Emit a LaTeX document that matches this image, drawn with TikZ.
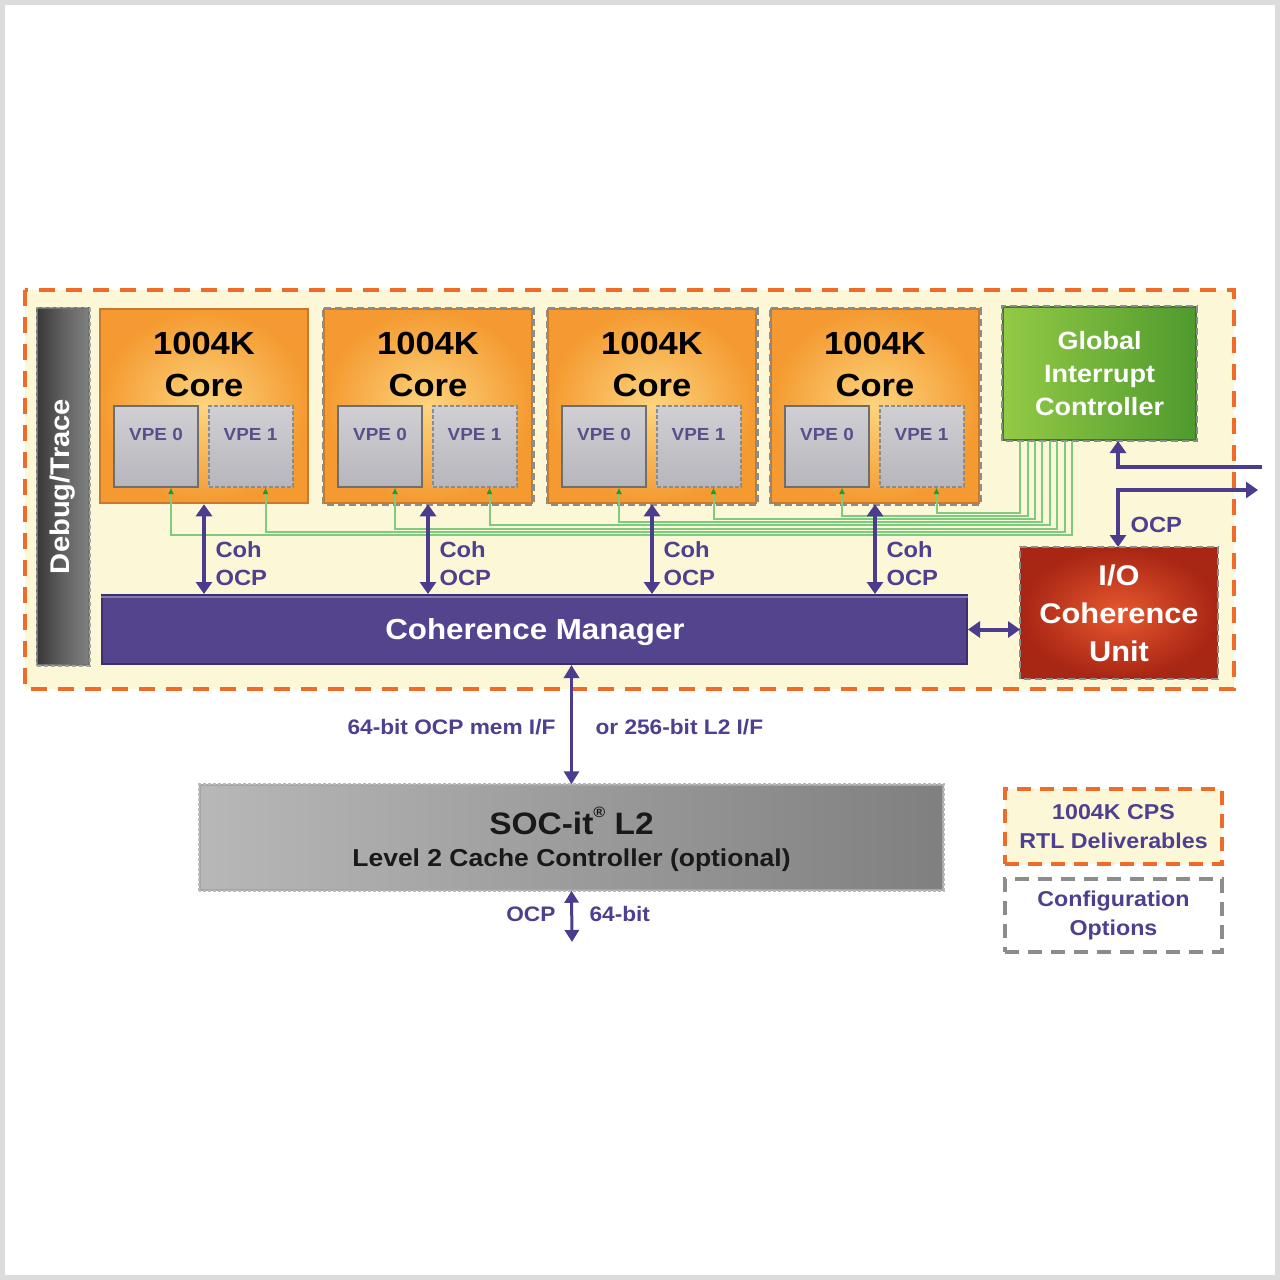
\documentclass[tikz,border=0pt]{standalone}
\usepackage{fontspec}
\setmainfont{Liberation Sans}[FakeStretch=1.08]
\usetikzlibrary{arrows.meta,shapes.geometric}
\definecolor{pur}{HTML}{4B3C8E}
\definecolor{ptxt}{HTML}{4E3F90}
\definecolor{bgy}{HTML}{FCF7D6}
\definecolor{odash}{HTML}{F06A28}
\definecolor{corein}{HTML}{FDD47E}
\definecolor{coreout}{HTML}{F49A30}
\definecolor{coreedge}{HTML}{C9782C}
\definecolor{dgray}{HTML}{8C8C8C}
\definecolor{vpetop}{HTML}{CFCFD4}
\definecolor{vpebot}{HTML}{B6B6BC}
\definecolor{vpeedge}{HTML}{6E6E72}
\definecolor{glc}{HTML}{7CCB7E}
\definecolor{gtip}{HTML}{1F9A38}
\definecolor{gicl}{HTML}{93CA45}
\definecolor{gicr}{HTML}{4F9A2E}
\definecolor{iocin}{HTML}{E8582E}
\definecolor{iocout}{HTML}{A82614}
\definecolor{cmfill}{HTML}{54448E}
\definecolor{cmedge}{HTML}{3B2F6E}
\definecolor{framegray}{HTML}{DCDCDC}
\newcommand{\myfs}[2]{\fontsize{#1}{#2}\selectfont\bfseries}
\begin{document}
\begin{tikzpicture}[x=1pt,y=-1pt,
  box/.style={rectangle, inner sep=0pt},
  corebox/.style={box, minimum width=208pt, minimum height=194pt, shading=radial, inner color=corein, outer color=coreout, draw=coreedge, line width=2.5pt},
  dashedge/.style={draw=dgray, dash pattern=on 7pt off 4pt, line width=2.5pt},
  vpebox/.style={box, minimum width=84pt, minimum height=81pt, top color=vpetop, bottom color=vpebot, draw=vpeedge, line width=2pt},
  vpeboxd/.style={vpebox, draw=dgray, dash pattern=on 4pt off 2pt},
  coretext/.style={align=center, font=\myfs{32}{42}, text=black},
  vpetext/.style={font=\myfs{17.5}{20}, text=ptxt!75!gray},
  lab/.style={font=\myfs{22}{28}, text=ptxt, align=left},
  parr/.style={draw=pur, line width=4pt, arrows={Triangle[length=12pt,width=16pt]-Triangle[length=12pt,width=16pt]}},
  parr1/.style={draw=pur, line width=4pt, arrows={-Triangle[length=12pt,width=16pt]}},
  gline/.style={draw=glc, line width=2pt, arrows={-Triangle[length=6pt,width=5pt,color=gtip]}},
  legtext/.style={align=center, font=\myfs{21.5}{29}, text=ptxt}
]
\useasboundingbox (0,0) rectangle (1280,1280);
\fill[white] (0,0) rectangle (1280,1280);
\draw[framegray, line width=5pt] (2.5,2.5) rectangle (1277.5,1277.5);

% outer CPS region
\draw[odash, fill=bgy, line width=4pt, dash pattern=on 16pt off 11pt] (25,290) rectangle (1234,689);

% Debug/Trace
\node[box, minimum width=52pt, minimum height=357pt, left color=black!78, right color=black!50, middle color=black!62, draw=black!55, line width=1.5pt] (dbg) at (63,486.5) {};
\draw[dgray!80, dash pattern=on 4pt off 3pt, line width=1.5pt] (dbg.south west) rectangle (dbg.north east);
\node[rotate=90, font=\myfs{27}{30}, text=white] (dbgt) at (dbg.center) {Debug/Trace};

% cores
\node[corebox] (c1) at (204,406) {};
\foreach \i/\cx in {2/428,3/652,4/875}{
  \node[corebox] (c\i) at (\cx,406) {};
  \draw[dashedge] (c\i.south west) rectangle (c\i.north east);
}
\foreach \i/\cx in {1/204,2/428,3/652,4/875}{
  \node[coretext] (c\i t) at ([yshift=-57pt]c\i.north) {1004K\\Core};
  \node[vpebox] (v\i0) at (\cx-48,446.5) {};
  \node[vpeboxd] (v\i1) at (\cx+46.5,446.5) {};
  \node[vpetext] (v\i0t) at ([yshift=-29pt]v\i0.north) {VPE 0};
  \node[vpetext] (v\i1t) at ([yshift=-29pt]v\i1.north) {VPE 1};
}

% Global Interrupt Controller
\node[box, minimum width=193pt, minimum height=133pt, left color=gicl, right color=gicr, draw=gicr!80!black, line width=2pt] (gic) at (1099.5,373.5) {};
\draw[dashedge] (gic.south west) rectangle (gic.north east);
\node[align=center, font=\myfs{25}{33}, text=white] (gict) at (gic.center) {Global\\Interrupt\\Controller};

% I/O Coherence Unit
\node[box, minimum width=196pt, minimum height=130pt, shading=radial, inner color=iocin, outer color=iocout, draw=iocout, line width=2pt] (iocu) at (1119,613) {};
\draw[dashedge] (iocu.south west) rectangle (iocu.north east);
\node[align=center, font=\myfs{28.5}{38}, text=white] (iocut) at (iocu.center) {I/O\\Coherence\\Unit};

% Coherence Manager
\node[box, minimum width=865pt, minimum height=69pt, fill=cmfill, draw=cmedge, line width=2pt] (cm) at (534.5,629.5) {};
\draw[cmfill!70!white, line width=2pt] ([yshift=-3pt]cm.north west) -- ([yshift=-3pt]cm.north east);
\node[font=\myfs{29}{32}, text=white] (cmt) at (535,632) {Coherence Manager};

% green interrupt lines from VPEs to GIC
\foreach \v/\bx/\by in {v10/1072/535, v11/1064.6/531.8, v20/1057.2/528.6, v21/1049.8/525.4, v30/1042.4/522.2, v31/1035/519, v40/1027.6/515.8, v41/1020.2/512.6}{
  \draw[gline] (gic.south -| \bx,0) |- ([xshift=15pt]\v.south |- 0,\by) -- ([xshift=15pt]\v.south);
}

% Coh OCP arrows cores <-> CM
\foreach \i in {1,2,3,4}{
  \draw[parr] (c\i.south) -- (c\i.south |- cm.north);
  \node[lab, anchor=west] (l\i) at ([xshift=8pt]c\i.south |- 0,564) {Coh\\OCP};
}

% CM <-> IOCU
\draw[parr] (cm.east) -- (cm.east -| iocu.west);

% external OCP ports
\coordinate (ext1) at (1262,467);
\coordinate (ext2) at (1258,490);
\draw[parr1] (ext1) -| (gic.south -| 1118,0);
\draw[parr] (ext2) -| (iocu.north -| 1118,0);
\node[lab, anchor=west] (ocpl) at (1127,525) {OCP};

% SOC-it L2
\node[box, minimum width=743pt, minimum height=105pt, left color=black!28, middle color=black!20, right color=black!50, draw=black!35, line width=1.5pt] (soc) at (571.5,837.5) {};
\draw[dgray!60, dash pattern=on 3pt off 2pt, line width=2pt] (soc.south west) rectangle (soc.north east);
\node[font=\myfs{31}{34}, text=black!90] (soct1) at (571.5,821) {SOC-it{\raisebox{0.55em}{\fontsize{15}{15}\selectfont ®}} L2};
\node[font=\myfs{24.5}{28}, text=black!90] (soct2) at (571.5,860) {Level 2 Cache Controller (optional)};

% CM <-> SOC
\draw[draw=pur, line width=3pt, arrows={Triangle[length=13pt,width=15pt]-Triangle[length=13pt,width=15pt]}] (cm.south -| soc.north) -- (soc.north);
\node[font=\myfs{21}{24}, text=ptxt, anchor=east] (memif) at (559,727) {64-bit OCP mem I/F};
\node[font=\myfs{21}{24}, text=ptxt, anchor=west] (l2if) at (592,727) {or 256-bit L2 I/F};

% SOC out
\coordinate (socout) at (572,942);
\draw[draw=pur, line width=3pt, arrows={Triangle[length=12pt,width=14pt]-Triangle[length=12pt,width=14pt]}] (soc.south) -- (socout);
\node[font=\myfs{21}{24}, text=ptxt, anchor=east] (ocpb) at (559,914) {OCP};
\node[font=\myfs{21}{24}, text=ptxt, anchor=west] (bitb) at (586,914) {64-bit};

% legend
\node[box, minimum width=217pt, minimum height=75pt, fill=bgy, draw=odash, line width=3.5pt, dash pattern=on 14pt off 9pt] (leg1) at (1113.5,826.5) {};
\node[legtext] (leg1t) at (leg1.center) {1004K CPS\\RTL Deliverables};
\node[box, minimum width=217pt, minimum height=73pt, fill=white, draw=dgray, line width=3.5pt, dash pattern=on 14pt off 9pt] (leg2) at (1113.5,915.5) {};
\node[legtext] (leg2t) at (leg2.center) {Configuration\\Options};
\end{tikzpicture}
\end{document}
